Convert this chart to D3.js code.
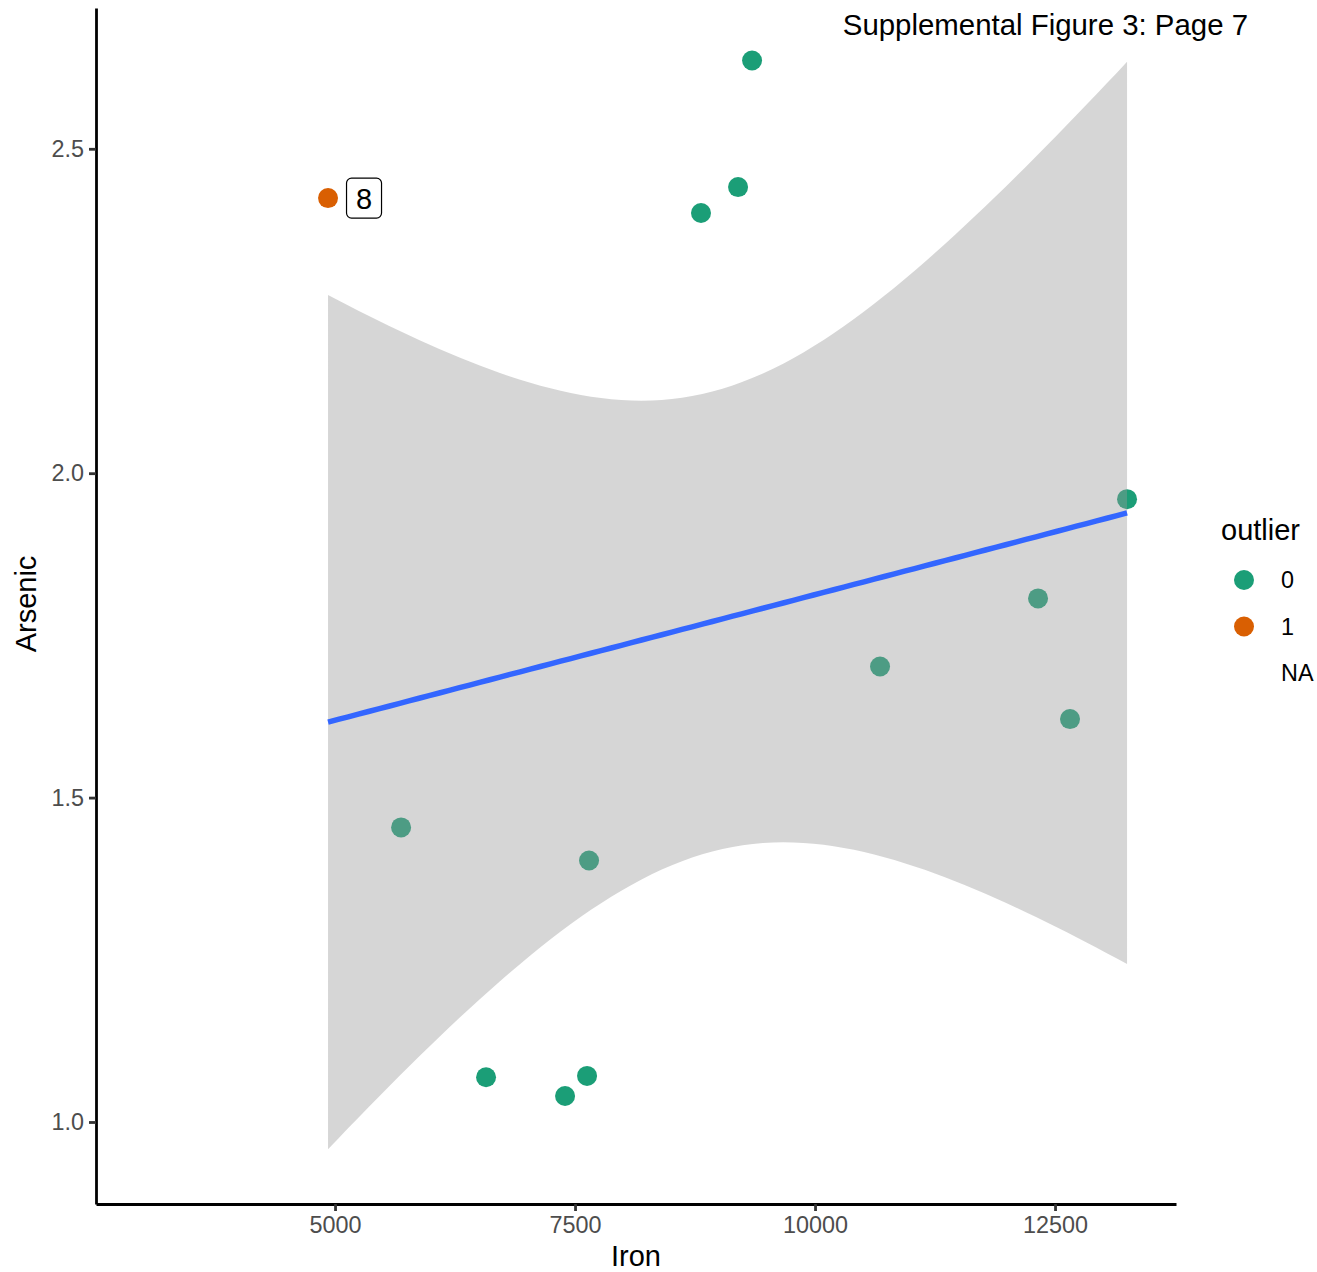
<!DOCTYPE html>
<meta charset="utf-8">
<script src="https://d3js.org/d3.v7.min.js"></script>
<style>
  body { margin: 0; background: #fff; }
  text { font-family: "Liberation Sans", Arial, sans-serif; }
</style>
<div id="my_dataviz"></div>
<script>

// data
var iron    = [9344, 9198, 8812, 4927, 13250, 12323, 10677, 12656, 5688, 7646, 6573, 7396, 7625];
var arsenic = [2.636, 2.441, 2.401, 2.424, 1.960, 1.807, 1.702, 1.621, 1.454, 1.403, 1.069, 1.040, 1.071];
var outlier = ["0", "0", "0", "1", "0", "0", "0", "0", "0", "0", "0", "0", "0"];
var pointLabels = ["", "", "", "8", "", "", "", "", "", "", "", "", ""];
var xTicks = [5000, 7500, 10000, 12500];
var yTicks = [1.0, 1.5, 2.0, 2.5];
var legendKeys = ["0", "1", "NA"];

var data = iron.map(function(d, i) {
  return { x: d, y: arsenic[i], outlier: outlier[i], label: pointLabels[i] };
});

var svg = d3.select("#my_dataviz")
  .append("svg")
    .attr("width", 1317)
    .attr("height", 1272);

var x = d3.scaleLinear().domain([2510, 13760]).range([96, 1176]);
var y = d3.scaleLinear().domain([0.8736, 2.717]).range([1204, 8]);

var color = d3.scaleOrdinal().domain(["0", "1"]).range(["#1b9e77", "#d95f02"]);

// points (drawn first, the ribbon covers them like ggplot)
svg.append("g")
  .selectAll("circle")
  .data(data)
  .enter()
  .append("circle")
    .attr("cx", function(d) { return x(d.x); })
    .attr("cy", function(d) { return y(d.y); })
    .attr("r", 10)
    .style("fill", function(d) { return color(d.outlier); });

// lm fit + 95% confidence band
var n = data.length;
var mx = d3.mean(data, function(d) { return d.x; });
var my = d3.mean(data, function(d) { return d.y; });
var sxx = d3.sum(data, function(d) { return (d.x - mx) * (d.x - mx); });
var sxy = d3.sum(data, function(d) { return (d.x - mx) * (d.y - my); });
var b = sxy / sxx, a = my - b * mx;
var sse = d3.sum(data, function(d) { var r = d.y - (a + b * d.x); return r * r; });
var s = Math.sqrt(sse / (n - 2));
var tq = 2.200985; // qt(0.975, 11)

var xmin = d3.min(iron), xmax = d3.max(iron);
var grid = d3.range(80).map(function(i) {
  var xv = xmin + (xmax - xmin) * i / 79;
  var fit = a + b * xv;
  var se = s * Math.sqrt(1 / n + (xv - mx) * (xv - mx) / sxx);
  return { x: xv, fit: fit, lo: fit - tq * se, hi: fit + tq * se };
});

svg.append("path")
  .datum(grid)
  .attr("d", d3.area()
    .x(function(d) { return x(d.x); })
    .y0(function(d) { return y(d.lo); })
    .y1(function(d) { return y(d.hi); }))
  .style("fill", "#999999")
  .style("fill-opacity", 0.4);

svg.append("path")
  .datum(grid)
  .attr("d", d3.line()
    .x(function(d) { return x(d.x); })
    .y(function(d) { return y(d.fit); }))
  .style("fill", "none")
  .style("stroke", "#3366FF")
  .style("stroke-width", 5.5);

// label for the outlier
var lab = svg.append("g");
data.filter(function(d) { return d.label !== ""; }).forEach(function(d) {
  var cx = x(d.x) + 36, cy = y(d.y);
  lab.append("rect")
    .attr("x", cx - 17.5).attr("y", cy - 20)
    .attr("width", 35).attr("height", 40)
    .attr("rx", 5).attr("ry", 5)
    .style("fill", "white")
    .style("stroke", "black")
    .style("stroke-width", 1.2);
  lab.append("text")
    .attr("x", cx).attr("y", cy)
    .attr("dy", "0.36em")
    .style("text-anchor", "middle")
    .style("font-size", "29px")
    .text(d.label);
});

// axes
var xAxis = svg.append("g")
  .attr("transform", "translate(0,1204)")
  .call(d3.axisBottom(x).tickValues(xTicks).tickSizeInner(7).tickSizeOuter(0).tickPadding(5).tickFormat(d3.format("d")));
var yAxis = svg.append("g")
  .attr("transform", "translate(96,0)")
  .call(d3.axisLeft(y).tickValues(yTicks).tickSizeInner(7).tickSizeOuter(0).tickPadding(5).tickFormat(d3.format(".1f")));

[xAxis, yAxis].forEach(function(g) {
  g.select(".domain").style("stroke", "black").style("stroke-width", 2.8);
  g.selectAll(".tick line").style("stroke", "#333333").style("stroke-width", 2.8);
  g.selectAll(".tick text")
    .style("fill", "#4d4d4d")
    .style("font-size", "23.4px")
    .style("font-family", "'Liberation Sans', Arial, sans-serif");
});

svg.append("text")      // X axis label
  .attr("x", 636)
  .attr("y", 1266)
  .style("text-anchor", "middle")
  .style("font-size", "29px")
  .text("Iron");

svg.append("text")      // Y axis label
  .attr("transform", "translate(36,604) rotate(-90)")
  .style("text-anchor", "middle")
  .style("font-size", "29px")
  .text("Arsenic");

svg.append("text")      // top-right note
  .attr("x", 1248)
  .attr("y", 35)
  .style("text-anchor", "end")
  .style("font-size", "29.4px")
  .text("Supplemental Figure 3: Page 7");

// legend
var leg = svg.append("g");
leg.append("text")
  .attr("x", 1221).attr("y", 540)
  .style("font-size", "29px")
  .text("outlier");

leg.selectAll("circle")
  .data(legendKeys.filter(function(k) { return k !== "NA"; }))
  .enter()
  .append("circle")
    .attr("cx", 1244)
    .attr("cy", function(d, i) { return 580 + i * 46.5; })
    .attr("r", 10)
    .style("fill", function(d) { return color(d); });

leg.selectAll("text.key")
  .data(legendKeys)
  .enter()
  .append("text")
    .attr("class", "key")
    .attr("x", 1281)
    .attr("y", function(d, i) { return 580 + i * 46.5; })
    .attr("dy", "0.36em")
    .style("font-size", "23.4px")
    .text(function(d) { return d; });

</script>
